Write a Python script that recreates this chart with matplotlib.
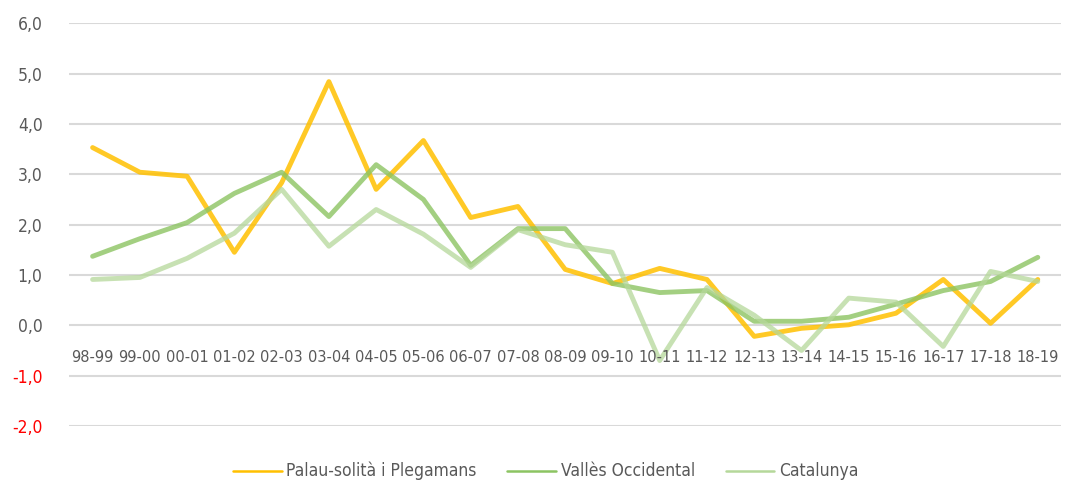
import numpy as np
import matplotlib.pyplot as plt
from matplotlib import font_manager

periodes = ['98-99', '99-00', '00-01', '01-02', '02-03', '03-04', '04-05', '05-06',
            '06-07', '07-08', '08-09', '09-10', '10-11', '11-12', '12-13', '13-14',
            '14-15', '15-16', '16-17', '17-18', '18-19']
palau = [3.53, 3.04, 2.96, 1.45, 2.83, 4.84, 2.70, 3.67, 2.14, 2.36, 1.11, 0.83,
         1.13, 0.91, -0.22, -0.06, 0.01, 0.24, 0.91, 0.04, 0.91]
valles = [1.37, 1.72, 2.04, 2.62, 3.04, 2.16, 3.19, 2.50, 1.19, 1.92, 1.92, 0.83,
          0.65, 0.69, 0.08, 0.08, 0.16, 0.42, 0.69, 0.87, 1.35]
catalunya = [0.91, 0.95, 1.33, 1.83, 2.70, 1.57, 2.30, 1.81, 1.15, 1.90, 1.60, 1.45,
             -0.70, 0.75, 0.20, -0.50, 0.54, 0.46, -0.42, 1.07, 0.87]
yticks = [-2, -1, 0, 1, 2, 3, 4, 5, 6]

# busquem una lletra estreta, si n'hi ha
estretes = [f for f in font_manager.fontManager.ttflist
            if ('Narrow' in f.name or 'Condensed' in f.name or 'condensed' in str(f.stretch))
            and f.style == 'normal' and f.weight in (400, 'normal', 'regular')]
if estretes:
    fp = font_manager.FontProperties(fname=estretes[0].fname)
    mida = 12.5
else:
    fp = font_manager.FontProperties(family=['Roboto', 'DejaVu Sans'])
    mida = 11.5

gris = '#595959'
fig = plt.figure(figsize=(10.66, 4.83), dpi=100)
ax = fig.add_axes([0.0647, 0.118, 0.931, 0.834])

x = np.arange(len(periodes))
ax.plot(x, palau, color='#FFC000', lw=3.5, alpha=0.85, label='Palau-solità i Plegamans',
        solid_capstyle='round', zorder=3)
ax.plot(x, valles, color='#8CC462', lw=3.5, alpha=0.8, label='Vallès Occidental',
        solid_capstyle='round', zorder=3)
ax.plot(x, catalunya, color='#B5D89A', lw=3.5, alpha=0.75, label='Catalunya',
        solid_capstyle='round', zorder=3)

ax.set_xlim(-0.5, len(periodes) - 0.5)
ax.set_ylim(-2, 6)
ax.set_yticks(yticks)
ax.set_yticklabels([f'{v:.1f}'.replace('.', ',') for v in yticks])
for t, v in zip(ax.get_yticklabels(), yticks):
    t.set_color('#FF0000' if v < 0 else gris)
    t.set_fontproperties(fp)
    t.set_fontsize(mida)
ax.tick_params(axis='y', length=0, pad=19)
ax.set_xticks([])
ax.grid(axis='y', color='#D9D9D9', lw=1.5, zorder=0)
for s in ax.spines.values():
    s.set_visible(False)

for i, p in enumerate(periodes):
    ax.text(i, -0.63, p, ha='center', va='center', fontproperties=fp,
            fontsize=mida - 0.8, color=gris)

leg = fig.legend(loc='center left', bbox_to_anchor=(0.2186, 0.025), ncol=3, frameon=False,
                 prop=fp, handlelength=3.5, columnspacing=2.2, handletextpad=0.35,
                 borderaxespad=0, borderpad=0)
for t in leg.get_texts():
    t.set_color(gris)
    t.set_fontsize(mida)
for h in leg.legend_handles:
    h.set_linewidth(1.8)
    h.set_alpha(1)

fig.savefig('out.png', dpi=100)
